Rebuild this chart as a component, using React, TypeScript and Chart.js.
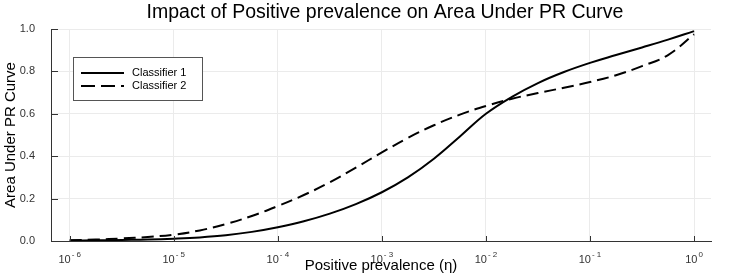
import React, { useEffect, useRef } from "react";
import { Chart, registerables } from "chart.js";
Chart.register(...registerables);

const TITLE = "Impact of Positive prevalence on Area Under PR Curve";
const X_TITLE = "Positive prevalence (\u03b7)";
const Y_TITLE = "Area Under PR Curve";
const SERIES_NAMES = ["Classifier 1", "Classifier 2"];

// log10 of positive prevalence at which values were read
const logEta = [-6, -5.75, -5.5, -5.25, -5, -4.75, -4.5, -4.25, -4, -3.75, -3.5, -3.25, -3, -2.75, -2.5, -2.25, -2, -1.75, -1.5, -1.25, -1, -0.75, -0.5, -0.25, 0];
const classifier1 = [0.002, 0.003, 0.005, 0.007, 0.011, 0.017, 0.027, 0.043, 0.065, 0.093, 0.129, 0.174, 0.23, 0.3, 0.388, 0.493, 0.6, 0.68, 0.745, 0.797, 0.84, 0.877, 0.913, 0.95, 0.99];
const classifier2 = [0.004, 0.007, 0.012, 0.019, 0.03, 0.05, 0.08, 0.118, 0.165, 0.217, 0.277, 0.346, 0.418, 0.486, 0.546, 0.596, 0.637, 0.671, 0.698, 0.723, 0.75, 0.782, 0.825, 0.877, 0.975];

const xTickExponents = [-6, -5, -4, -3, -2, -1, 0];
const yTickValues = [0, 0.2, 0.4, 0.6, 0.8, 1.0];

const FONT = "'Liberation Sans', Arial, Helvetica, sans-serif";
const DASH = [12, 6];

const customPlugin = {
  id: "custom",
  afterDraw(chart: any) {
    const { ctx, chartArea: a, scales } = chart;
    const xs = scales.x;
    const ys = scales.y;
    ctx.save();
    // inward tick marks
    ctx.strokeStyle = "#333";
    ctx.lineWidth = 1;
    ctx.beginPath();
    yTickValues.forEach((v) => {
      const y = Math.round(ys.getPixelForValue(v)) + 0.5;
      ctx.moveTo(a.left, y);
      ctx.lineTo(a.left + 7, y);
    });
    xTickExponents.forEach((e) => {
      const x = Math.round(xs.getPixelForValue(Math.pow(10, e))) + 0.5;
      ctx.moveTo(x, a.bottom);
      ctx.lineTo(x, a.bottom - 5);
    });
    ctx.stroke();

    // y tick labels
    ctx.fillStyle = "#333";
    ctx.font = `11px ${FONT}`;
    ctx.textAlign = "right";
    ctx.textBaseline = "middle";
    yTickValues.forEach((v) => {
      ctx.fillText(v.toFixed(1), a.left - 16, ys.getPixelForValue(v));
    });

    // x tick labels 10^e
    xTickExponents.forEach((e) => {
      const x = xs.getPixelForValue(Math.pow(10, e));
      ctx.font = `11px ${FONT}`;
      const base = "10";
      const exp = e === 0 ? "0" : "- " + String(-e);
      const wb = ctx.measureText(base).width;
      ctx.font = `8px ${FONT}`;
      const we = ctx.measureText(exp).width;
      const start = x - (wb + we + 1) / 2;
      ctx.textAlign = "left";
      ctx.textBaseline = "alphabetic";
      ctx.font = `11px ${FONT}`;
      ctx.fillText(base, start, a.bottom + 22);
      ctx.font = `8px ${FONT}`;
      ctx.fillText(exp, start + wb + 1, a.bottom + 16);
    });

    // title
    ctx.fillStyle = "#000";
    ctx.font = `19.5px ${FONT}`;
    ctx.textAlign = "center";
    ctx.textBaseline = "middle";
    ctx.fillText(TITLE, (a.left + a.right) / 2 + 4, 13);

    // axis titles
    ctx.font = `15px ${FONT}`;
    ctx.fillText(X_TITLE, (a.left + a.right) / 2, a.bottom + 25);
    ctx.save();
    ctx.translate(11, (a.top + a.bottom) / 2);
    ctx.rotate(-Math.PI / 2);
    ctx.fillText(Y_TITLE, 0, 0);
    ctx.restore();

    // legend
    const lx = a.left + 22;
    const ly = a.top + 28;
    const lw = 129;
    const lh = 43;
    ctx.fillStyle = "#fff";
    ctx.fillRect(lx, ly, lw, lh);
    ctx.strokeStyle = "#555";
    ctx.lineWidth = 1;
    ctx.strokeRect(lx + 0.5, ly + 0.5, lw, lh);
    ctx.strokeStyle = "#000";
    ctx.lineWidth = 2;
    const rows = [ly + 16, ly + 29];
    rows.forEach((ry, i) => {
      ctx.setLineDash(i === 0 ? [] : [14, 6]);
      ctx.beginPath();
      ctx.moveTo(lx + 8, ry);
      ctx.lineTo(lx + 51, ry);
      ctx.stroke();
    });
    ctx.setLineDash([]);
    ctx.fillStyle = "#000";
    ctx.font = `11px ${FONT}`;
    ctx.textAlign = "left";
    ctx.textBaseline = "middle";
    rows.forEach((ry, i) => ctx.fillText(SERIES_NAMES[i], lx + 59, ry));
    ctx.restore();
  },
};

export default function App() {
  const ref = useRef<HTMLCanvasElement | null>(null);
  useEffect(() => {
    if (!ref.current) return;
    const mk = (vals: number[]) => logEta.map((e, i) => ({ x: Math.pow(10, e), y: vals[i] }));
    const chart = new Chart(ref.current, {
      type: "line",
      data: {
        datasets: [
          {
            label: SERIES_NAMES[0],
            data: mk(classifier1),
            borderColor: "#000",
            borderWidth: 2,
            pointRadius: 0,
            tension: 0.4,
            fill: false,
          },
          {
            label: SERIES_NAMES[1],
            data: mk(classifier2),
            borderColor: "#000",
            borderWidth: 2,
            borderDash: DASH,
            pointRadius: 0,
            tension: 0.4,
            fill: false,
          },
        ],
      },
      options: {
        animation: false,
        responsive: true,
        maintainAspectRatio: false,
        layout: { padding: { left: 0, right: 20, top: 29, bottom: 0 } },
        plugins: { legend: { display: false }, title: { display: false }, tooltip: { enabled: false } },
        scales: {
          x: {
            type: "logarithmic",
            min: Math.pow(10, -6.18),
            max: Math.pow(10, 0.163),
            afterBuildTicks: (s: any) => {
              s.ticks = xTickExponents.map((e) => ({ value: Math.pow(10, e) }));
            },
            afterFit: (s: any) => {
              s.height = 33;
            },
            ticks: { display: false },
            grid: { color: "#ebebeb", drawTicks: false },
            border: { display: true, color: "#333", width: 1 },
          },
          y: {
            type: "linear",
            min: 0,
            max: 1,
            afterBuildTicks: (s: any) => {
              s.ticks = yTickValues.map((v) => ({ value: v }));
            },
            afterFit: (s: any) => {
              s.width = 51;
            },
            ticks: { display: false },
            grid: { color: "#ebebeb", drawTicks: false },
            border: { display: true, color: "#333", width: 1 },
          },
        },
      },
      plugins: [customPlugin],
    } as any);
    return () => chart.destroy();
  }, []);
  return (
    <div style={{ position: "absolute", left: 0, top: 0, width: 731, height: 274, background: "#fff" }}>
      <canvas ref={ref} />
    </div>
  );
}
